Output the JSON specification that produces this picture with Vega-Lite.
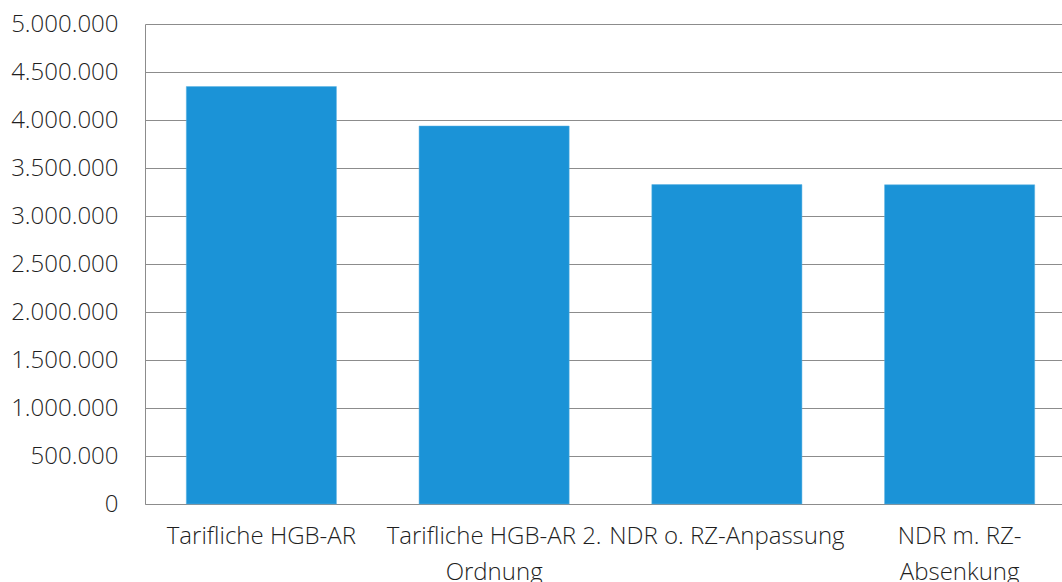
{
  "$schema": "https://vega.github.io/schema/vega-lite/v6.json",
  "autosize": {"type": "none"},
  "padding": {"left": 145, "top": 24, "right": 0, "bottom": 78},
  "width": 917,
  "height": 480,
  "background": "white",
  "config": {
    "view": {"stroke": null},
    "font": "Open Sans",
    "axis": {"labelFont": "Open Sans", "labelFontWeight": 300, "labelColor": "#1F1F1F", "labelFontSize": 24}
  },
  "data": {
    "values": [
      {"kategorie": "Tarifliche HGB-AR", "wert": 4348000},
      {"kategorie": "Tarifliche HGB-AR 2. Ordnung", "wert": 3937500},
      {"kategorie": "NDR o. RZ-Anpassung", "wert": 3327000},
      {"kategorie": "NDR m. RZ-Absenkung", "wert": 3325000}
    ]
  },
  "mark": {"type": "bar", "color": "#1B93D7", "stroke": "#5BB2E3", "strokeWidth": 0.5},
  "encoding": {
    "x": {
      "field": "kategorie",
      "type": "nominal",
      "sort": null,
      "scale": {"range": [0, 931], "paddingInner": 0.355, "paddingOuter": 0.1775},
      "axis": {
        "title": null,
        "labelAngle": 0,
        "ticks": false,
        "domainColor": "#8C8C8C",
        "domainWidth": 1,
        "labelPadding": 20,
        "labelLineHeight": 36,
        "labelLimit": 300,
        "labelExpr": "datum.value == 'Tarifliche HGB-AR 2. Ordnung' ? ['Tarifliche HGB-AR 2.', 'Ordnung'] : datum.value == 'NDR m. RZ-Absenkung' ? ['NDR m. RZ-', 'Absenkung'] : datum.value"
      }
    },
    "y": {
      "field": "wert",
      "type": "quantitative",
      "scale": {"domain": [0, 5000000], "nice": false},
      "axis": {
        "title": null,
        "values": [0, 500000, 1000000, 1500000, 2000000, 2500000, 3000000, 3500000, 4000000, 4500000, 5000000],
        "labelExpr": "replace(format(datum.value, ',d'), /,/g, '.')",
        "ticks": false,
        "labelPadding": 27,
        "gridColor": "#8C8C8C",
        "gridWidth": 1,
        "gridOpacity": 1,
        "domainColor": "#8C8C8C",
        "domainWidth": 1
      }
    }
  }
}
